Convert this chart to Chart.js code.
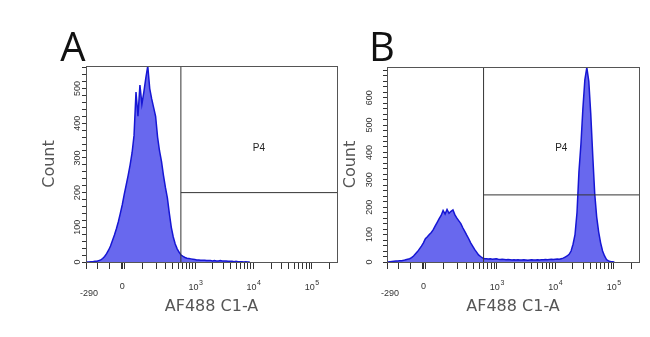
<!DOCTYPE html>
<html>
<head>
<meta charset="utf-8">
<script src="https://cdn.jsdelivr.net/npm/chart.js@4.4.1/dist/chart.umd.min.js"></script>
<style>
  body { margin: 0; background: #fff; }
  #wrap { position: relative; width: 650px; height: 337px; }
  canvas { position: absolute; left: 0; top: 0; }
</style>
</head>
<body>
<div id="wrap">
  <canvas id="graficoA" width="650" height="337"></canvas>
  <canvas id="graficoB" width="650" height="337"></canvas>
</div>
<script>
// === Dados (contagens por bin, 2 canais por bin, canais 0..256) ===
const binLargura = 2;
const countsA = [
  0, 0, 1, 1, 2, 2, 4, 6, 10, 16, 24, 34, 46, 62, 78, 96, 116, 140, 165, 195,
  222, 250, 280, 315, 365, 490, 420, 510, 455, 490, 530, 565, 500, 470, 445, 420,
  360, 320, 290, 250, 215, 185, 140, 100, 72, 52, 38, 28, 20, 16, 13, 11, 10, 9,
  8, 7, 6, 6, 5, 5, 5, 4, 4, 4, 3, 4, 3, 3, 4, 3, 3, 3, 2, 2, 2, 1, 2, 1, 1, 1,
  0, 1, 0, 0
];
const countsB = [
  0, 1, 2, 3, 4, 4, 5, 5, 6, 8, 10, 12, 16, 22, 30, 38, 48, 58, 70, 85,
  92, 100, 108, 118, 132, 145, 158, 170, 188, 175, 192, 178, 185, 190, 172, 160,
  150, 140, 125, 112, 98, 85, 70, 58, 46, 36, 26, 20, 15, 12,
  12, 11, 12, 10, 11, 12, 10, 9, 10, 9, 8, 9, 8, 7, 8, 7, 8, 7, 7, 8,
  7, 6, 7, 8, 7, 7, 8, 7, 8, 8, 9, 8, 9, 10, 9, 10, 11,
  10, 12, 14, 18, 22, 28, 40, 65, 100, 180, 330, 430, 560, 665, 710, 660,
  540, 390, 250, 165, 110, 70, 40, 22, 9, 4, 2, 1, 0
];
const yMaxA = 565;
const yMaxB = 712;
const yMajorA = [0, 100, 200, 300, 400, 500];
const yMajorB = [0, 100, 200, 300, 400, 500, 600];
const gateXA = 560, gateYA = 200;
const gateXB = 590, gateYB = 245;

const xTickValues = [-290, 0, 1000, 10000, 100000];
const xTickLabels = ["-290", "0", "10^3", "10^4", "10^5"];
const xMinorTicks = [-200, -100, -10, 10, 100, 200, 300, 400, 500, 600, 700, 800, 900,
  2000, 3000, 4000, 5000, 6000, 7000, 8000, 9000,
  20000, 30000, 40000, 50000, 60000, 70000, 80000, 90000, 200000];

// eixo biexponencial -> canal (0..256)
function canal(v) {
  if (v < 0) return 37 * (1 + v / 290);
  return 37 + 25.8 * Math.asinh(v / 111.5);
}

// === Textos do painel ===
const textos = {
  id: "textos",
  afterDraw(chart, args, o) {
    const ctx = chart.ctx;
    const area = chart.chartArea;
    const sx = chart.scales.x, sy = chart.scales.y;
    ctx.save();
    // caixa
    ctx.strokeStyle = "#555";
    ctx.lineWidth = 1;
    ctx.strokeRect(Math.round(area.left) + 0.5, Math.round(area.top) + 0.5,
      Math.round(area.right - area.left), Math.round(area.bottom - area.top));

    // letra do painel
    ctx.fillStyle = "#111";
    ctx.font = "40px 'Open Sans', sans-serif";
    ctx.textAlign = "center";
    ctx.textBaseline = "alphabetic";
    ctx.fillText(o.letra, o.letraX, 61);

    // rótulos do eixo y (rotacionados)
    ctx.fillStyle = "#333";
    ctx.font = "9px 'Liberation Sans', sans-serif";
    ctx.textBaseline = "middle";
    o.yMajors.forEach(v => {
      ctx.save();
      ctx.translate(area.left - o.yLabelOff, sy.getPixelForValue(v));
      ctx.rotate(-Math.PI / 2);
      ctx.fillText(String(v), 0, 0);
      ctx.restore();
    });

    // Count
    ctx.fillStyle = "#555";
    ctx.font = "16px 'DejaVu Sans', sans-serif";
    ctx.save();
    ctx.translate(area.left - 36, (area.top + area.bottom) / 2);
    ctx.rotate(-Math.PI / 2);
    ctx.fillText("Count", 0, 0);
    ctx.restore();

    // rótulos do eixo x
    ctx.fillStyle = "#333";
    xTickValues.forEach((v, i) => {
      const px = sx.getPixelForValue(canal(v));
      const lab = xTickLabels[i];
      const y = v < 0 ? 294 : 287;
      if (lab.includes("^")) {
        const [base, exp] = lab.split("^");
        ctx.font = "9px 'Liberation Sans', sans-serif";
        const wb = ctx.measureText(base).width;
        ctx.font = "7px 'Liberation Sans', sans-serif";
        const we = ctx.measureText(exp).width;
        const x0 = px - (wb + we) / 2;
        ctx.textAlign = "left";
        ctx.font = "9px 'Liberation Sans', sans-serif";
        ctx.fillText(base, x0, y + 1);
        ctx.font = "7px 'Liberation Sans', sans-serif";
        ctx.fillText(exp, x0 + wb + 0.5, y - 4);
      } else {
        ctx.textAlign = "center";
        ctx.font = "9px 'Liberation Sans', sans-serif";
        ctx.fillText(lab, px + (v < 0 ? 3 : 0), y);
      }
    });

    // título x
    ctx.textAlign = "center";
    ctx.fillStyle = "#555";
    ctx.font = "16px 'DejaVu Sans', sans-serif";
    ctx.fillText("AF488 C1-A", (area.left + area.right) / 2, 307);

    // P4
    ctx.fillStyle = "#222";
    ctx.font = "10px 'Liberation Sans', sans-serif";
    const gx = sx.getPixelForValue(o.gateCanal);
    ctx.fillText("P4", (gx + area.right) / 2, 148);
    ctx.restore();
  }
};

function criarGrafico(id, counts, yMax, yMajors, gateX, gateY, padding, extra) {
  const pontos = counts.map((c, i) => ({ x: i * binLargura + binLargura / 2, y: c }));
  const gx = canal(gateX);
  return new Chart(document.getElementById(id), {
    type: "line",
    data: {
      datasets: [
        { data: [{ x: gx, y: 0 }, { x: gx, y: yMax }], borderColor: "#333", borderWidth: 1,
          pointRadius: 0, fill: false, order: 0 },
        { data: [{ x: gx, y: gateY }, { x: 256, y: gateY }], borderColor: "#333", borderWidth: 1,
          pointRadius: 0, fill: false, order: 0 },
        { data: pontos, borderColor: "#1616d4", backgroundColor: "#6868ee", borderWidth: 1.5,
          pointRadius: 0, fill: "origin", tension: 0, order: 1 }
      ]
    },
    options: {
      responsive: false,
      animation: false,
      devicePixelRatio: 1,
      layout: { padding: padding },
      plugins: {
        legend: { display: false },
        tooltip: { enabled: false },
        textos: Object.assign({ yMajors: yMajors, gateCanal: gx }, extra)
      },
      scales: {
        x: {
          type: "linear", min: 0, max: 256,
          afterBuildTicks: s => {
            s.ticks = xTickValues.concat(xMinorTicks).map(v => ({ value: canal(v) }))
              .sort((a, b) => a.value - b.value);
          },
          ticks: { display: false },
          grid: { drawOnChartArea: false, tickLength: 7, color: "#333" },
          border: { color: "#555" }
        },
        y: {
          min: 0, max: yMax,
          afterBuildTicks: s => {
            const t = [];
            for (let v = 0; v <= yMax; v += 20) t.push({ value: v });
            s.ticks = t;
          },
          ticks: { display: false },
          grid: { drawOnChartArea: false, tickLength: 4, color: "#333" },
          border: { color: "#555" }
        }
      }
    },
    plugins: [textos]
  });
}

// === Inicializa ===
criarGrafico("graficoA", countsA, yMaxA, yMajorA, gateXA, gateYA,
  { left: 82, right: 313, top: 66, bottom: 68 },
  { letra: "A", letraX: 73, yLabelOff: 8 });
criarGrafico("graficoB", countsB, yMaxB, yMajorB, gateXB, gateYB,
  { left: 383, right: 11, top: 67, bottom: 68 },
  { letra: "B", letraX: 382, yLabelOff: 17 });
</script>
</body>
</html>
